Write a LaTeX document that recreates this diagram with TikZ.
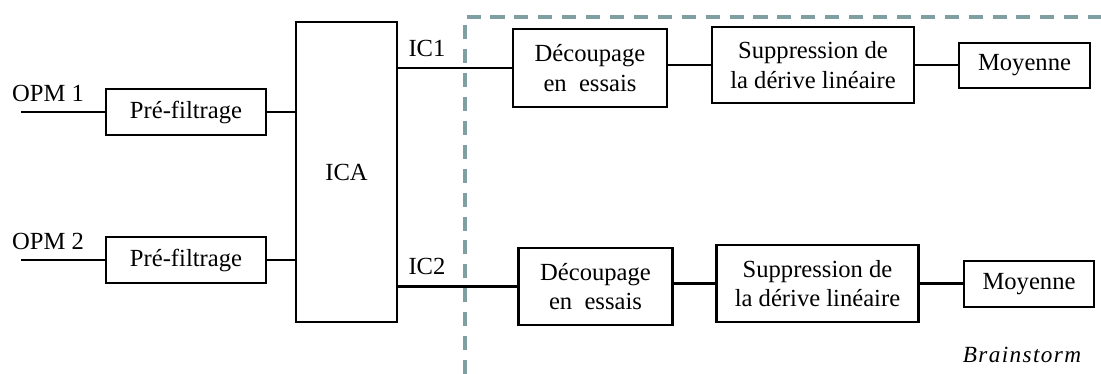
\documentclass[tikz,border=0pt]{standalone}
\usepackage{fontspec}
\setmainfont{Liberation Serif}
\usetikzlibrary{positioning, calc}
\definecolor{ink}{HTML}{000000}
\definecolor{frame}{HTML}{7FA0A2}
\tikzset{
  font=\rmfamily\fontsize{17.5}{21}\selectfont,
  %
  box/.style={
    draw=ink, line width=1.5pt, fill=white, align=center,
    inner sep=0pt, text=ink,
  },
  boxpf/.style={box, minimum width=3.98cm, minimum height=1.15cm},
  boxdec/.style={box, minimum width=3.85cm, minimum height=1.94cm},
  boxsup/.style={box, minimum width=5.05cm, minimum height=1.92cm},
  boxmoy/.style={box, minimum width=3.27cm, minimum height=1.14cm},
  %
  wire/.style={draw=ink, line width=1.5pt},
  border/.style={draw=frame, line width=2.2pt, dash pattern=on 10pt off 7pt},
  %
  lbl/.style={inner sep=1pt, text=ink},
  note/.style={font=\rmfamily\fontsize{16.5}{19}\selectfont\itshape\addfontfeature{LetterSpace=6},
               text=ink, inner sep=1pt},
}

\begin{document}
\begin{tikzpicture}[x=0.025cm, y=-0.025cm]
  \useasboundingbox (0,0) rectangle (1101,374);

  % =======================================================================
  % LEFT: inputs, pre-filtering and ICA
  % =======================================================================
  \foreach \i/\y in {1/112, 2/260} {
    \coordinate (in\i) at (21,\y);
    \node[lbl] (opm\i) at (48,\y-19) {OPM \i};
    \node[boxpf] (pf\i) at (186,\y) {Pré-filtrage};
  }
  \node[box, minimum width=2.52cm, minimum height=7.5cm] (ica) at (346.5,172) {ICA};

  \foreach \i in {1,2} {
    \draw[wire] (in\i) -- (pf\i.west);
    \draw[wire] (pf\i.east) -- (pf\i.east -| ica.west);
  }

  % =======================================================================
  % RIGHT: Brainstorm processing, one row per component
  % =======================================================================
  \node[boxdec] (dec1) at (590,68) {Découpage\\en\ \ essais};
  \node[boxsup] (sup1) at (813,65) {Suppression de\\la dérive linéaire};
  \node[boxmoy] (moy1) at (1024.5,65.5) {Moyenne};

  \node[boxdec] (dec2) at (595.5,286.5) {Découpage\\en\ \ essais};
  \node[boxsup] (sup2) at (817.5,283.5) {Suppression de\\la dérive linéaire};
  \node[boxmoy] (moy2) at (1029,284) {Moyenne};

  \node[lbl] (ic1) at (427,48) {IC1};
  \node[lbl] (ic2) at (427,266) {IC2};

  \foreach \i in {1,2} {
    \draw[wire] (ica.east |- dec\i.west) -- (dec\i.west);
    \draw[wire] (dec\i.east |- sup\i.west) -- (sup\i.west);
    \draw[wire] (sup\i.east) -- (sup\i.east -| moy\i.west);
  }

  % the Brainstorm frame
  \coordinate (fb) at (465,374);
  \coordinate (fr) at (1101,17);
  \draw[border] (fb) |- (fr);
  \node[note] (bst) at (1022,355) {Brainstorm};

\end{tikzpicture}
\end{document}
